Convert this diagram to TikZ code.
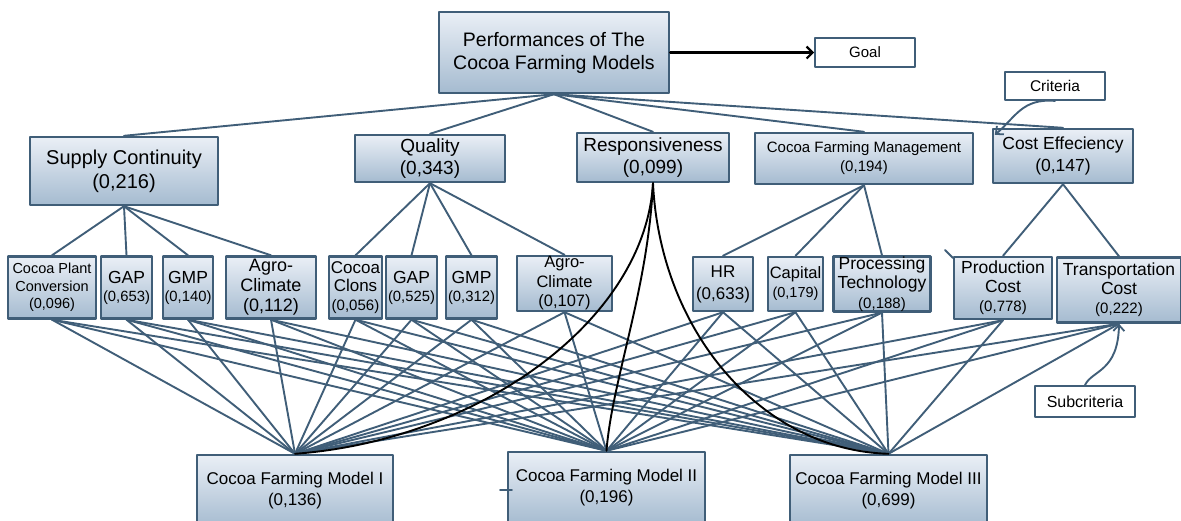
\documentclass[tikz,border=0pt]{standalone}
\usepackage{fontspec}
\setmainfont{Liberation Sans}
\usetikzlibrary{arrows.meta}
\definecolor{slate}{RGB}{64,94,120}
\definecolor{boxtop}{RGB}{234,239,246}
\definecolor{boxbot}{RGB}{165,187,208}
\def\fs#1#2{\fontsize{#1}{#2}\selectfont}
\begin{document}
\begin{tikzpicture}[x=1pt,y=-1pt,line join=round,line cap=round,
	hbox/.style={draw=slate,line width=2.4pt,top color=boxtop,bottom color=boxbot,inner sep=0pt,align=center},
	tagbox/.style={draw=slate,line width=1.8pt,fill=white,inner sep=0pt},
	link/.style={slate,line width=1.9pt},
	tip/.style={-{Straight Barb[length=6pt,width=11pt,line width=1.8pt]}}]
	\useasboundingbox (0,0) rectangle (1181,520);
	% goal
	\node[hbox,minimum width=230,minimum height=81,font=\fs{19.5}{23}] (goal) at (554,52.5) {Performances of The\\Cocoa Farming Models};
	\node[tagbox,minimum width=100,minimum height=29,font=\fs{15}{18}] (tgoal) at (865,52.5) {Goal};
	\node[tagbox,minimum width=100,minimum height=28,font=\fs{15.5}{18}] (tcrit) at (1055,86) {Criteria};
	\node[tagbox,minimum width=100,minimum height=31,font=\fs{16}{18}] (tsub) at (1085,401.5) {Subcriteria};
	% criteria
	\node[hbox,minimum width=188,minimum height=68,font=\fs{20}{24}] (sc) at (124,171) {Supply Continuity\\(0,216)};
	\node[hbox,minimum width=150,minimum height=47,font=\fs{19}{22}] (ql) at (430,158.5) {Quality\\(0,343)};
	\node[hbox,minimum width=152,minimum height=49,font=\fs{19}{22}] (rs) at (653,157.5) {Responsiveness\\(0,099)};
	\node[hbox,minimum width=218,minimum height=51,font=\fs{15}{19}] (cfm) at (864,158.5) {Cocoa Farming Management\\(0,194)};
	\node[hbox,minimum width=140,minimum height=54,font=\fs{17.5}{22}] (ce) at (1063,156) {Cost Effeciency\\(0,147)};
	% subcriteria
	\node[hbox,minimum width=88,minimum height=62,font=\fs{14.5}{17.5}] (sub1) at (52,287.5) {Cocoa Plant\\Conversion\\(0,096)};
	\node[hbox,minimum width=51,minimum height=62,font=\fs{17.5}{18}] (sub2) at (126.5,287.5) {GAP\\{\fs{14.8}{17}(0,653)}};
	\node[hbox,minimum width=50,minimum height=62,font=\fs{17.5}{18}] (sub3) at (188,287.5) {GMP\\{\fs{14.8}{17}(0,140)}};
	\node[hbox,minimum width=90,minimum height=62,font=\fs{18}{20}] (sub4) at (271,287.5) {Agro-\\Climate\\(0,112)};
	\node[hbox,minimum width=53,minimum height=62,font=\fs{17}{18.5}] (sub5) at (355.5,287.5) {Cocoa\\Clons\\{\fs{15}{17}(0,056)}};
	\node[hbox,minimum width=51,minimum height=62,font=\fs{17.5}{18}] (sub6) at (411.5,287.5) {GAP\\{\fs{14.8}{17}(0,525)}};
	\node[hbox,minimum width=51,minimum height=62,font=\fs{17.5}{18}] (sub7) at (471.5,287.5) {GMP\\{\fs{14.8}{17}(0,312)}};
	\node[hbox,minimum width=95,minimum height=55,font=\fs{16.5}{19.5}] (sub8) at (564.5,283.5) {Agro-\\Climate\\(0,107)};
	\node[hbox,minimum width=60,minimum height=54,font=\fs{17}{22}] (sub9) at (723,284) {HR\\(0,633)};
	\node[hbox,minimum width=55,minimum height=54,font=\fs{16.5}{19}] (sub10) at (795.5,284) {Capital\\{\fs{14.5}{17}(0,179)}};
	\node[hbox,minimum width=97,minimum height=54,font=\fs{17.5}{19.5}] (sub11) at (882,284) {Processing\\Technology\\{\fs{15}{17}(0,188)}};
	\node[hbox,minimum width=98,minimum height=62,font=\fs{17.5}{19}] (sub12) at (1003,288) {Production\\Cost\\{\fs{15}{18}(0,778)}};
	\node[hbox,minimum width=124,minimum height=65,font=\fs{17.5}{19}] (sub13) at (1119,290) {Transportation\\Cost\\{\fs{15}{19}(0,222)}};
	% alternatives
	\node[hbox,minimum width=196,minimum height=72,font=\fs{17}{21}] (m1) at (295,491) {Cocoa Farming Model I\\(0,136)};
	\node[hbox,minimum width=197,minimum height=72,font=\fs{17}{21}] (m2) at (606.5,488) {Cocoa Farming Model II\\(0,196)};
	\node[hbox,minimum width=197,minimum height=72,font=\fs{17}{21}] (m3) at (888.5,491) {Cocoa Farming Model III\\(0,699)};
	% links
	\foreach \c in {sc,ql,rs,cfm,ce} \draw[link] (goal.south) -- (\c.north);
	\foreach \i in {1,...,4} \draw[link] (sc.south) -- (sub\i.north);
	\foreach \i in {5,...,8} \draw[link] (ql.south) -- (sub\i.north);
	\foreach \i in {9,10,11} \draw[link] (cfm.south) -- (sub\i.north);
	\foreach \i in {12,13} \draw[link] (ce.south) -- (sub\i.north);
	\foreach \i in {1,...,13} \foreach \m in {m1,m2,m3} \draw[link] (sub\i.south) -- (\m.north);
	\draw[black,line width=1.9pt] (rs.south) .. controls (645,320) and (480,440) .. (m1.north);
	\draw[black,line width=1.9pt] (rs.south) .. controls (648,290) and (612,380) .. (m2.north);
	\draw[black,line width=1.9pt] (rs.south) .. controls (660,330) and (760,450) .. (m3.north);
	\draw[link] (945,250) -- (953,258);
	\draw[link] (500,490) -- (512,490);
	% labels
	\draw[black,line width=2.4pt,-{Straight Barb[length=6pt,width=12pt,line width=2.2pt]}] (goal.east) -- (tgoal.west);
	\draw[link,tip] (tcrit.south) .. controls (1022,98) and (1015,118) .. ([shift={(3,7)}]ce.north west);
	\draw[link,tip] (tsub.north) .. controls (1092,370) and (1118,372) .. (sub13.south);
\end{tikzpicture}
\end{document}
